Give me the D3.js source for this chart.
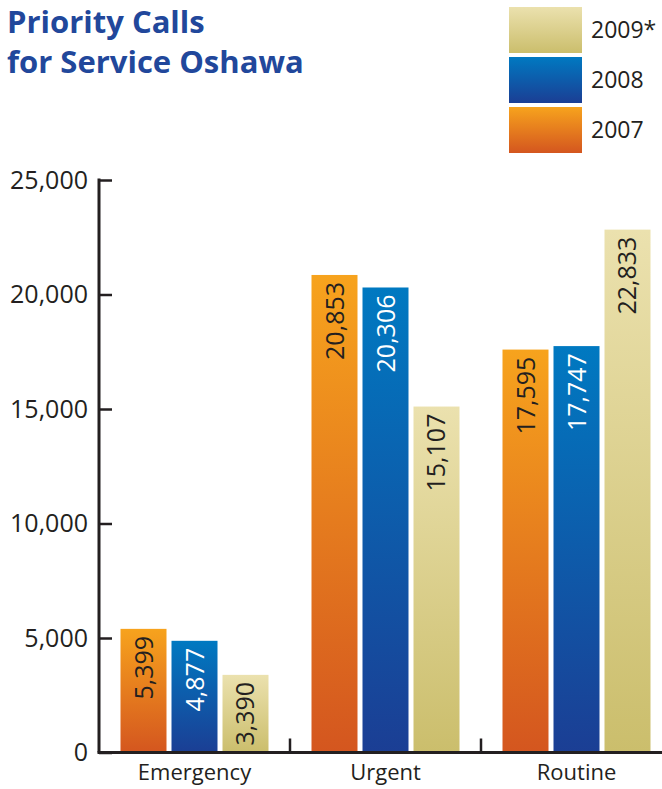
<!DOCTYPE html>
<html>
<head>
<meta charset="utf-8">
<script src="https://cdn.jsdelivr.net/npm/d3@7/dist/d3.min.js"></script>
<style>
  html, body { margin: 0; padding: 0; background: #fff; }
  svg { display: block; }
  text { font-family: "Open Sans", "DejaVu Sans", sans-serif; fill: #231F20; }
</style>
</head>
<body>
<script>
// Priority calls for service, Oshawa, by category and year
const categories = ["Emergency", "Urgent", "Routine"];
const years = ["2007", "2008", "2009*"];
const legendOrder = ["2009*", "2008", "2007"];
const values2007 = [5399, 20853, 17595];
const values2008 = [4877, 20306, 17747];
const values2009 = [3390, 15107, 22833];
const yTicks = [0, 5000, 10000, 15000, 20000, 25000];

const seriesValues = { "2007": values2007, "2008": values2008, "2009*": values2009 };

const width = 662, height = 789;
const svg = d3.select("body").append("svg")
  .attr("width", width).attr("height", height);

// Vertical gradients, light at the top and deeper at the base
const palette = {
  "2007": { top: "#F7A31D", bottom: "#D4561F", label: "#231F20" },
  "2008": { top: "#0079C1", bottom: "#1B3E94", label: "#FFFFFF" },
  "2009*": { top: "#EBE1AE", bottom: "#CBBE6C", label: "#231F20" }
};
const defs = svg.append("defs");
years.forEach((yr, i) => {
  const g = defs.append("linearGradient")
    .attr("id", "grad" + i)
    .attr("x1", 0).attr("y1", 0).attr("x2", 0).attr("y2", 1);
  g.append("stop").attr("offset", "0%").attr("stop-color", palette[yr].top);
  g.append("stop").attr("offset", "100%").attr("stop-color", palette[yr].bottom);
});
const gradFor = yr => "url(#grad" + years.indexOf(yr) + ")";

// Scales
const x0 = d3.scaleBand().domain(categories).range([99, 672]).paddingInner(0).paddingOuter(0);
const groupInset = 21.5;
const x1 = d3.scaleBand().domain(years)
  .range([groupInset, x0.bandwidth() - groupInset])
  .paddingInner(0.098).paddingOuter(0);
const y = d3.scaleLinear().domain([0, 25000]).range([752.5, 180]);

// Title
const title = svg.append("text")
  .style("font-weight", "700").style("font-size", "31px").style("fill", "#21479B");
title.append("tspan").attr("x", 7).attr("y", 33).text("Priority Calls");
title.append("tspan").attr("x", 7).attr("y", 73).text("for Service Oshawa");

// Legend
const legend = svg.append("g").selectAll("g").data(legendOrder).join("g")
  .attr("transform", (d, i) => `translate(509, ${7 + i * 50})`);
legend.append("rect")
  .attr("width", 73).attr("height", 46)
  .attr("fill", d => gradFor(d));
legend.append("text")
  .attr("x", 82).attr("y", 23).attr("dy", "0.36em")
  .style("font-size", "23px")
  .text(d => d);

// Bars
const groups = svg.append("g").selectAll("g").data(categories).join("g")
  .attr("transform", d => `translate(${x0(d)},0)`);

const bars = groups.selectAll("g.bar")
  .data((cat, ci) => years.map(yr => ({ cat, yr, value: seriesValues[yr][ci] })))
  .join("g").attr("class", "bar");

bars.append("rect")
  .attr("x", d => x1(d.yr))
  .attr("y", d => y(d.value))
  .attr("width", x1.bandwidth())
  .attr("height", d => y(0) - y(d.value))
  .attr("fill", d => gradFor(d.yr));

// Value labels, rotated and reading upward from inside each bar
const fmt = d3.format(",");
bars.append("text")
  .attr("transform", d => `translate(${x1(d.yr) + x1.bandwidth() / 2}, ${y(d.value) + 7}) rotate(-90)`)
  .attr("text-anchor", "end")
  .attr("dy", "0.36em")
  .style("font-size", "25px")
  .style("fill", d => palette[d.yr].label)
  .text(d => fmt(d.value));

// Y axis with ticks pointing into the plot
const yAxis = svg.append("g")
  .attr("transform", "translate(99,0)")
  .call(d3.axisLeft(y).tickValues(yTicks).tickFormat(fmt).tickSize(-13).tickPadding(11));
yAxis.select(".domain").remove();
yAxis.selectAll(".tick line").attr("stroke", "#231F20").attr("stroke-width", 2.5);
yAxis.selectAll(".tick text")
  .style("font-size", "25px").style("fill", "#231F20")
  .attr("font-family", null);
yAxis.append("line")
  .attr("x1", 0).attr("x2", 0).attr("y1", y(25000) - 1.5).attr("y2", y(0))
  .attr("stroke", "#231F20").attr("stroke-width", 3);

// X axis: baseline, group separators and category names
const xAxis = svg.append("g").attr("transform", `translate(0,${y(0)})`)
  .call(d3.axisBottom(x0).tickSize(0).tickPadding(12));
xAxis.select(".domain").remove();
xAxis.selectAll(".tick text")
  .style("font-size", "22px").style("fill", "#231F20")
  .attr("font-family", null);

svg.append("line")
  .attr("x1", 97.5).attr("x2", x0.range()[1])
  .attr("y1", y(0)).attr("y2", y(0))
  .attr("stroke", "#231F20").attr("stroke-width", 3);

svg.append("g").selectAll("line")
  .data(categories)
  .join("line")
  .attr("x1", d => x0(d) + x0.bandwidth())
  .attr("x2", d => x0(d) + x0.bandwidth())
  .attr("y1", y(0)).attr("y2", y(0) - 14)
  .attr("stroke", "#231F20").attr("stroke-width", 2.5);
</script>
</body>
</html>
